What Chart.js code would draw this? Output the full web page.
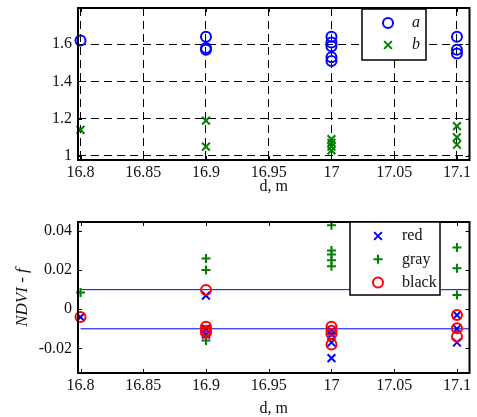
<!DOCTYPE html>
<html>
<head>
<meta charset="utf-8">
<script src="https://cdn.jsdelivr.net/npm/chart.js@4/dist/chart.umd.min.js"></script>
<style>
  html, body { margin: 0; padding: 0; background: #fff; }
  #wrap { position: relative; width: 477px; height: 417px; }
  .panel { position: absolute; left: 0; }
</style>
</head>
<body>
<div id="wrap">
  <div class="panel" style="top:0"><canvas id="topChart" width="477" height="200"></canvas></div>
  <div class="panel" style="top:200px"><canvas id="bottomChart" width="477" height="217"></canvas></div>
</div>
<script>
// Measurement distances (m) and the readings taken at each one
const distances = [16.8, 16.9, 17, 17.1];

// Upper panel: series a and b
const seriesA = [[1.62], [1.64, 1.58, 1.57], [1.64, 1.61, 1.59, 1.53, 1.51], [1.64, 1.57, 1.55]];
const seriesB = [[1.14], [1.19, 1.05], [1.09, 1.07, 1.05, 1.03], [1.16, 1.10, 1.06]];
const topNames = ['a', 'b'];

// Lower panel: NDVI - f for the red, gray and black targets
const ndviRed   = [[-0.004], [0.007, -0.010, -0.013], [-0.011, -0.013, -0.017, -0.025], [-0.003, -0.010, -0.017]];
const ndviGray  = [[0.0085], [0.026, 0.020, -0.016], [0.043, 0.030, 0.028, 0.025, 0.022], [0.0316, 0.021, 0.0073]];
const ndviBlack = [[-0.004], [0.0098, -0.009, -0.011, -0.012], [-0.009, -0.011, -0.0126, -0.018], [-0.003, -0.0097, -0.014]];
const bottomNames = ['red', 'gray', 'black'];

// Tolerance band drawn as two horizontal lines
const bandLimits = [0.01, -0.01];
const bandSpan = [16.8, 17.11];

// Axis ranges and ticks
const xRange = [16.798, 17.11];
const xTicks = [16.8, 16.85, 16.9, 16.95, 17, 17.05, 17.1];
const xTickLabels = ['16.8', '16.85', '16.9', '16.95', '17', '17.05', '17.1'];
const topYRange = [0.978, 1.795];
const topYTicks = [1, 1.2, 1.4, 1.6];
const topYTickLabels = ['1', '1.2', '1.4', '1.6'];
const bottomYRange = [-0.0326, 0.0446];
const bottomYTicks = [-0.02, 0, 0.02, 0.04];
const bottomYTickLabels = ['-0.02', '0', '0.02', '0.04'];

const SERIF = '"Liberation Serif", "Times New Roman", serif';
const tickFont = { family: SERIF, size: 16 };
Chart.defaults.font.family = SERIF;
Chart.defaults.font.size = 16;
Chart.defaults.color = '#111';

function toPoints(groups) {
  return distances.flatMap((d, i) => groups[i].map(v => ({ x: d, y: v })));
}

// Box around the plot area with inward tick marks on all four sides
const frameAndTicks = {
  id: 'frameAndTicks',
  afterDatasetsDraw(chart, args, opts) {
    const { ctx, chartArea: a, scales } = chart;
    const len = opts.tickLength;
    ctx.save();
    ctx.strokeStyle = '#000';
    ctx.lineWidth = 1;
    ctx.beginPath();
    scales.x.ticks.forEach(t => {
      const px = Math.round(scales.x.getPixelForValue(t.value)) + 0.5;
      ctx.moveTo(px, a.bottom); ctx.lineTo(px, a.bottom - len);
      ctx.moveTo(px, a.top); ctx.lineTo(px, a.top + len);
    });
    scales.y.ticks.forEach(t => {
      const py = Math.round(scales.y.getPixelForValue(t.value)) + 0.5;
      ctx.moveTo(a.left, py); ctx.lineTo(a.left + len, py);
      ctx.moveTo(a.right, py); ctx.lineTo(a.right - len, py);
    });
    ctx.stroke();
    ctx.lineWidth = opts.frameWidth;
    ctx.strokeRect(a.left, a.top, a.right - a.left, a.bottom - a.top);
    ctx.restore();
  }
};

// Boxed legend placed inside the plot area
const boxLegend = {
  id: 'boxLegend',
  afterDraw(chart, args, o) {
    const ctx = chart.ctx;
    ctx.save();
    ctx.fillStyle = '#fff';
    ctx.fillRect(o.left, o.top, o.width, o.height);
    ctx.strokeStyle = '#000';
    ctx.lineWidth = 1.5;
    ctx.strokeRect(o.left, o.top, o.width, o.height);
    let row = 0;
    chart.data.datasets.forEach(ds => {
      if (!ds.inLegend) return;
      const y = o.top + o.firstRow + row * o.rowGap;
      ctx.strokeStyle = ds.borderColor;
      ctx.fillStyle = 'rgba(0,0,0,0)';
      ctx.lineWidth = ds.borderWidth;
      Chart.helpers.drawPoint(ctx, {
        pointStyle: ds.pointStyle, rotation: 0,
        radius: ds.pointRadius, borderWidth: ds.borderWidth
      }, o.left + o.markerX, y);
      ctx.fillStyle = '#111';
      ctx.font = (o.italic ? 'italic ' : '') + '16px ' + SERIF;
      ctx.textAlign = 'left';
      ctx.textBaseline = 'middle';
      ctx.fillText(ds.label, o.left + o.textX, y);
      row++;
    });
    ctx.restore();
  }
};

function xScale(titlePadBottom) {
  return {
    type: 'linear',
    min: xRange[0], max: xRange[1],
    afterBuildTicks: s => { s.ticks = xTicks.map(v => ({ value: v })); },
    ticks: { padding: 3, maxRotation: 0, autoSkip: false, font: tickFont, color: '#111', callback: (v, i) => xTickLabels[i] },
    title: { display: true, text: 'd, m', color: '#111', font: { family: SERIF, size: 16, lineHeight: 1 }, padding: { top: 0, bottom: titlePadBottom } }
  };
}

function scatterSet(label, groups, color, style, radius, order) {
  return {
    label, inLegend: true,
    data: toPoints(groups),
    showLine: false,
    pointStyle: style,
    pointRadius: radius,
    pointHoverRadius: radius,
    borderColor: color,
    backgroundColor: 'rgba(0,0,0,0)',
    pointBorderColor: color,
    pointBackgroundColor: 'rgba(0,0,0,0)',
    borderWidth: 2,
    pointBorderWidth: 2,
    clip: false,
    order
  };
}

// Upper panel
new Chart(document.getElementById('topChart'), {
  type: 'scatter',
  data: {
    datasets: [
      scatterSet(topNames[0], seriesA, '#0000ff', 'circle', 5, 1),
      scatterSet(topNames[1], seriesB, '#008000', 'crossRot', 5.5, 0)
    ]
  },
  options: {
    responsive: false,
    animation: false,
    events: [],
    layout: { padding: { left: 0, top: 8, right: 4, bottom: 0 } },
    scales: {
      x: Object.assign(xScale(5), {
        afterFit: s => { s.height = 40; s.paddingLeft = 0; s.paddingRight = 0; },
        grid: { display: true, drawTicks: false, color: '#000', lineWidth: 1, borderDash: [8, 5] },
        border: { display: false, dash: [8, 5] }
      }),
      y: {
        type: 'linear',
        min: topYRange[0], max: topYRange[1],
        afterBuildTicks: s => { s.ticks = topYTicks.map(v => ({ value: v })); },
        afterFit: s => { s.width = 78; s.paddingTop = 0; s.paddingBottom = 0; },
        ticks: { padding: 6, font: tickFont, color: '#111', callback: (v, i) => topYTickLabels[i] },
        grid: { display: true, drawTicks: false, color: '#000', lineWidth: 1, borderDash: [8, 5] },
        border: { display: false, dash: [8, 5] }
      }
    },
    plugins: {
      legend: { display: false },
      tooltip: { enabled: false },
      frameAndTicks: { tickLength: 4, frameWidth: 2 },
      boxLegend: { left: 362, top: 9, width: 64, height: 51, firstRow: 14, rowGap: 22, markerX: 26, textX: 50, italic: true }
    }
  },
  plugins: [frameAndTicks, boxLegend]
});

// Lower panel
const bandSets = bandLimits.map(lim => ({
  label: '', inLegend: false,
  data: bandSpan.map(x => ({ x, y: lim })),
  showLine: true,
  pointRadius: 0,
  borderColor: '#0000ff',
  borderWidth: 1,
  clip: false,
  order: 5
}));

new Chart(document.getElementById('bottomChart'), {
  type: 'scatter',
  data: {
    datasets: [
      scatterSet(bottomNames[0], ndviRed, '#0000ff', 'crossRot', 5.5, 2),
      scatterSet(bottomNames[1], ndviGray, '#008000', 'cross', 4.5, 1),
      scatterSet(bottomNames[2], ndviBlack, '#ff0000', 'circle', 5, 0),
      ...bandSets
    ]
  },
  options: {
    responsive: false,
    animation: false,
    events: [],
    layout: { padding: { left: 0, top: 22, right: 4, bottom: 0 } },
    scales: {
      x: Object.assign(xScale(0), {
        afterFit: s => { s.height = 44; s.paddingLeft = 0; s.paddingRight = 0; },
        grid: { display: false, drawTicks: false },
        border: { display: false }
      }),
      y: {
        type: 'linear',
        min: bottomYRange[0], max: bottomYRange[1],
        afterBuildTicks: s => { s.ticks = bottomYTicks.map(v => ({ value: v })); },
        afterFit: s => { s.width = 78; s.paddingTop = 0; s.paddingBottom = 0; },
        ticks: { padding: 6, font: tickFont, color: '#111', callback: (v, i) => bottomYTickLabels[i] },
        grid: { display: false, drawTicks: false },
        border: { display: false },
        title: { display: true, text: 'NDVI - f', color: '#111', font: { family: SERIF, size: 17, style: 'italic', lineHeight: 1 }, padding: { top: 14, bottom: 0 } }
      }
    },
    plugins: {
      legend: { display: false },
      tooltip: { enabled: false },
      frameAndTicks: { tickLength: 4, frameWidth: 2 },
      boxLegend: { left: 350, top: 22, width: 90, height: 73, firstRow: 14, rowGap: 23.3, markerX: 28, textX: 52, italic: false }
    }
  },
  plugins: [frameAndTicks, boxLegend]
});
</script>
</body>
</html>
